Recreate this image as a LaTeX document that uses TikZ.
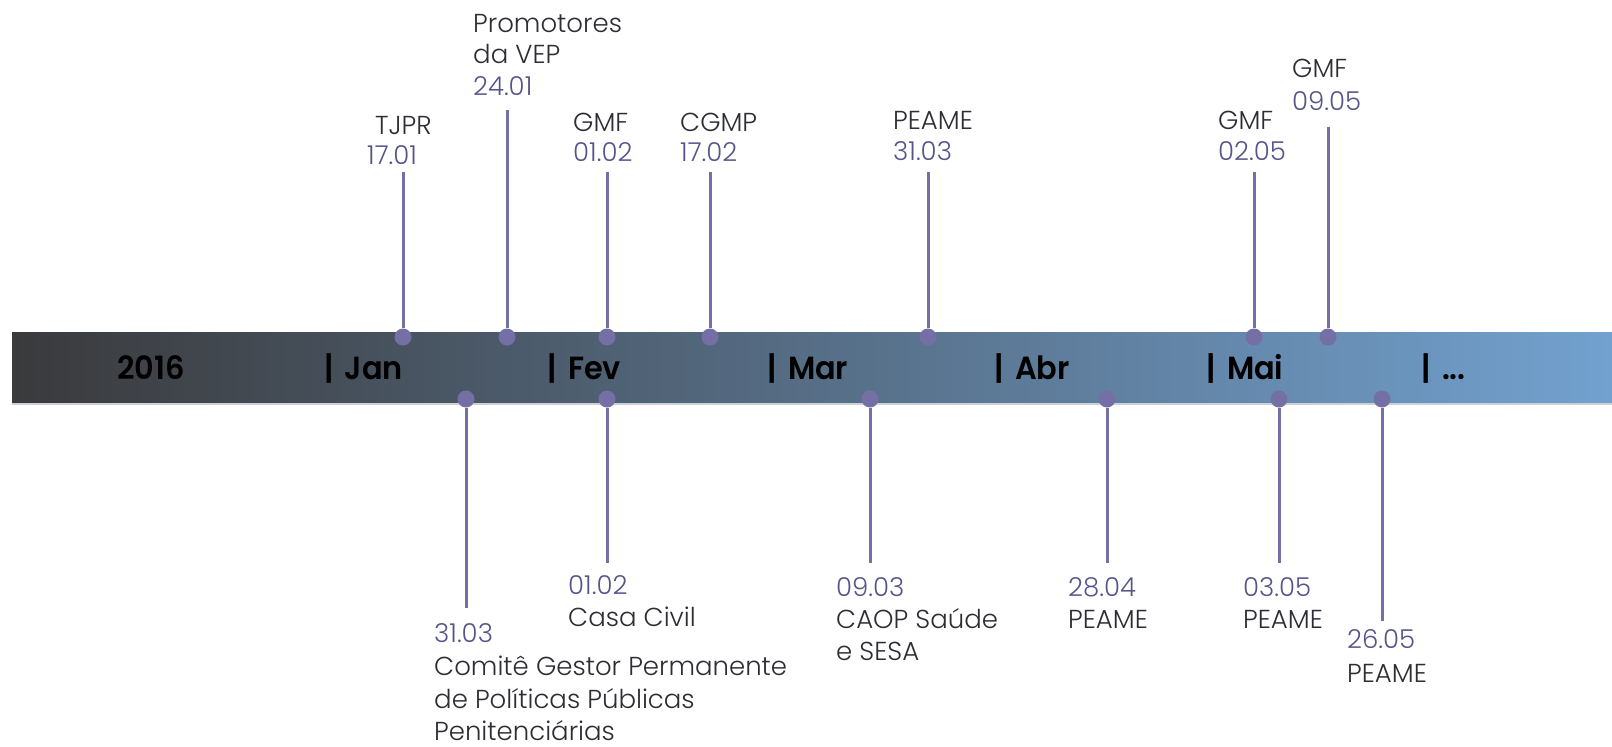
\documentclass[tikz,border=0pt]{standalone}
\usepackage{fontspec}
\IfFontExistsTF{Poppins Light}{%
  \IfFontExistsTF{Poppins SemiBold}{%
    \setmainfont{Poppins}[UprightFont={* Light}, BoldFont={* SemiBold}]%
  }{%
    \setmainfont{Poppins}[UprightFont={* Light}]%
  }%
}{%
  \setmainfont{Poppins}%
}
\definecolor{namecol}{RGB}{45,45,52}
\definecolor{datecol}{RGB}{86,84,138}
\definecolor{linecol}{RGB}{116,112,166}
\definecolor{barL}{RGB}{58,58,60}
\definecolor{barR}{RGB}{114,161,207}
\definecolor{barEdge}{RGB}{205,208,215}
\newcommand\barlbl[1]{\scalebox{0.95}[1]{#1}}
\newcommand\mlbl[1]{\scalebox{0.95}[1]{|\hspace{12pt}#1}}
\tikzset{
  nm/.style={anchor=base west, inner sep=0pt, text=namecol, font=\fontsize{26}{31}\selectfont},
  dt/.style={nm, text=datecol},
  conn/.style={draw=linecol, line width=3pt},
  dotnode/.style={circle, fill=linecol, minimum size=17pt, inner sep=0pt},
  barlabel/.style={anchor=base west, inner sep=0pt, text=black, font=\fontsize{32}{36}\selectfont\bfseries}
}
\begin{document}
\begin{tikzpicture}[x=1pt, y=-1pt]
\useasboundingbox (0,0) rectangle (1612,747);
% bar
\shade[left color=barL, right color=barR] (12,332) rectangle (1612,403);
\draw[barEdge, line width=1.5pt] (12,404) -- (1612,404);
% bar labels
\node[barlabel] (y2016) at (117,379) {\barlbl{2016}};
\node[barlabel] (mJan) at (324,379) {\mlbl{Jan}};
\node[barlabel] (mFev) at (547,379) {\mlbl{Fev}};
\node[barlabel] (mMar) at (767,379) {\mlbl{Mar}};
\node[barlabel] (mAbr) at (994,379) {\mlbl{Abr}};
\node[barlabel] (mMai) at (1206,379) {\mlbl{Mai}};
\node[barlabel] (mEtc) at (1421,379) {\mlbl{...}};
% top events: coordinates
\coordinate (t1) at (403,172);
\coordinate (t2) at (507,110);
\coordinate (t3) at (607,172);
\coordinate (t4) at (710,172);
\coordinate (t5) at (928,172);
\coordinate (t6) at (1254,172);
\coordinate (t7) at (1328,127);
% bottom events: coordinates
\coordinate (b1) at (466,608);
\coordinate (b2) at (607,563);
\coordinate (b3) at (870,563);
\coordinate (b4) at (1107,563);
\coordinate (b5) at (1279,563);
\coordinate (b6) at (1382,621);
% dots
\node[dotnode] (d1) at (403,337) {};
\node[dotnode] (d2) at (507,337) {};
\node[dotnode] (d3) at (607,337) {};
\node[dotnode] (d4) at (710,337) {};
\node[dotnode] (d5) at (928,337) {};
\node[dotnode] (d6) at (1254,337) {};
\node[dotnode] (d7) at (1328,337) {};
\node[dotnode] (e1) at (466,399) {};
\node[dotnode] (e2) at (607,399) {};
\node[dotnode] (e3) at (870,399) {};
\node[dotnode] (e4) at (1107,399) {};
\node[dotnode] (e5) at (1279,399) {};
\node[dotnode] (e6) at (1382,399) {};
% connectors
\draw[conn] (d1) -- (t1);
\draw[conn] (d2) -- (t2);
\draw[conn] (d3) -- (t3);
\draw[conn] (d4) -- (t4);
\draw[conn] (d5) -- (t5);
\draw[conn] (d6) -- (t6);
\draw[conn] (d7) -- (t7);
\draw[conn] (e1) -- (b1);
\draw[conn] (e2) -- (b2);
\draw[conn] (e3) -- (b3);
\draw[conn] (e4) -- (b4);
\draw[conn] (e5) -- (b5);
\draw[conn] (e6) -- (b6);
% top labels
\node[nm] (n1) at (375,134) {TJPR};
\node[dt] (s1) at (367,164) {17.01};
\node[nm] (n2a) at (473,32) {Promotores};
\node[nm] (n2b) at (473,63) {da VEP};
\node[dt] (s2) at (473,95) {24.01};
\node[nm] (n3) at (573,131) {GMF};
\node[dt] (s3) at (573,161) {01.02};
\node[nm] (n4) at (680,131) {CGMP};
\node[dt] (s4) at (680,161) {17.02};
\node[nm] (n5) at (893,129) {PEAME};
\node[dt] (s5) at (893,160) {31.03};
\node[nm] (n6) at (1218,129) {GMF};
\node[dt] (s6) at (1218,160) {02.05};
\node[nm] (n7) at (1292,77) {GMF};
\node[dt] (s7) at (1292,110) {09.05};
% bottom labels
\node[dt] (u1) at (434,642) {31.03};
\node[nm] (v1a) at (434,675) {Comitê Gestor Permanente};
\node[nm] (v1b) at (434,708) {de Políticas Públicas};
\node[nm] (v1c) at (434,740) {Penitenciárias};
\node[dt] (u2) at (568,594) {01.02};
\node[nm] (v2) at (568,626) {Casa Civil};
\node[dt] (u3) at (836,596) {09.03};
\node[nm] (v3a) at (836,628) {CAOP Saúde};
\node[nm] (v3b) at (836,660) {e SESA};
\node[dt] (u4) at (1068,596) {28.04};
\node[nm] (v4) at (1068,628) {PEAME};
\node[dt] (u5) at (1243,596) {03.05};
\node[nm] (v5) at (1243,628) {PEAME};
\node[dt] (u6) at (1347,648) {26.05};
\node[nm] (v6) at (1347,682) {PEAME};
\end{tikzpicture}
\end{document}
